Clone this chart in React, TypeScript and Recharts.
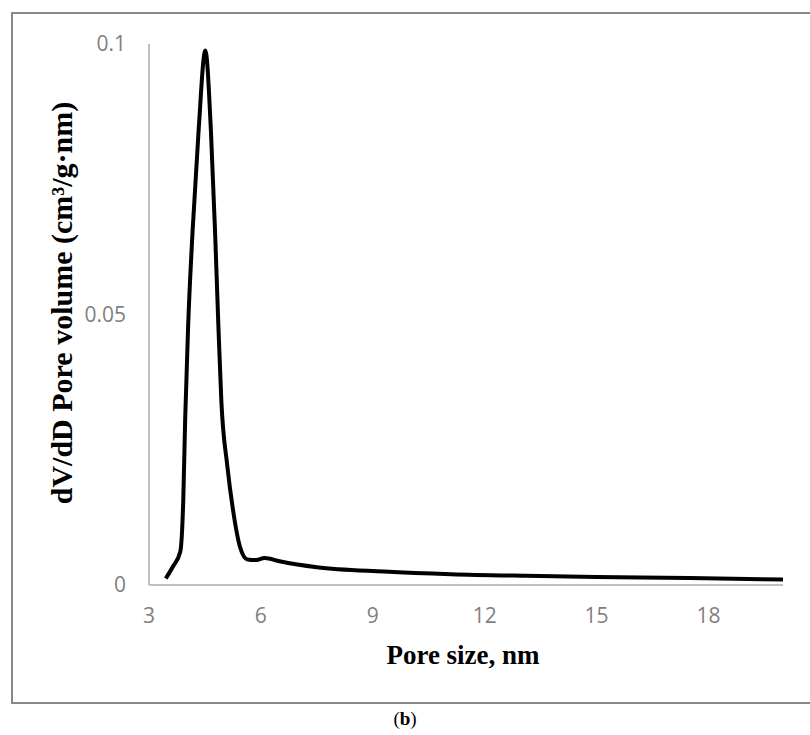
import React from 'react';
import { LineChart, Line, XAxis, YAxis } from 'recharts';

const poreSize: number[] = [3.45, 3.65, 3.84, 3.92, 3.97, 4.05, 4.17, 4.33, 4.51, 4.66, 4.77, 4.86, 4.94, 5.1, 5.25, 5.45, 5.64, 5.85, 6.1, 6.5, 7.5, 9.3, 11.1, 13.1, 15, 17.5, 20];
const poreVolume: number[] = [0.0012, 0.0035, 0.0062, 0.016, 0.0307, 0.048, 0.0656, 0.084, 0.0988, 0.084, 0.0656, 0.048, 0.034, 0.022, 0.014, 0.0068, 0.0047, 0.0046, 0.005, 0.0044, 0.0033, 0.0025, 0.002, 0.0017, 0.0015, 0.0013, 0.001];
const xTicks: number[] = [3, 6, 9, 12, 15, 18];
const yTicks: number[] = [0, 0.05, 0.1];

const xTitle = 'Pore size, nm';
const yTitle = 'dV/dD Pore volume (cm³/g·nm)';

const data = poreSize.map((x, i) => ({ x, y: poreVolume[i] }));

const tickStyle = { fontFamily: '"Open Sans", sans-serif', fontSize: 21, fill: '#7f7f7f' };

export default function App() {
  return (
    <div style={{ position: 'absolute', left: 0, top: 0, width: 810, height: 735, overflow: 'hidden', background: '#fff' }}>
      <div style={{ position: 'absolute', left: 11, top: 12, width: 820, height: 692, border: '2px solid #888', boxSizing: 'border-box' }} />
      <div style={{ position: 'absolute', left: 0, top: 0 }}>
        <LineChart width={810} height={735} data={data} margin={{ top: 44, right: 27, bottom: 120, left: 109 }}>
          <XAxis
            dataKey="x"
            type="number"
            domain={[3, 20]}
            ticks={xTicks}
            allowDataOverflow
            height={30}
            tickLine={false}
            tickSize={0}
            tickMargin={23}
            axisLine={{ stroke: '#bfbfbf', strokeWidth: 2 }}
            tick={tickStyle}
          />
          <YAxis
            type="number"
            domain={[0, 0.1]}
            ticks={yTicks}
            width={40}
            tickLine={false}
            tickSize={0}
            tickMargin={23}
            axisLine={{ stroke: '#bfbfbf', strokeWidth: 2 }}
            tick={tickStyle}
          />
          <Line
            type="monotone"
            dataKey="y"
            stroke="#000"
            strokeWidth={4}
            dot={false}
            isAnimationActive={false}
          />
        </LineChart>
      </div>
      <svg width={810} height={735} style={{ position: 'absolute', left: 0, top: 0, pointerEvents: 'none' }}>
        <text x={463} y={664} textAnchor="middle" fontFamily='"Liberation Serif", serif' fontWeight="bold" fontSize={27} fill="#000">{xTitle}</text>
        <text x={0} y={0} transform="translate(72,303) rotate(-90)" textAnchor="middle" fontFamily='"Liberation Serif", serif' fontWeight="bold" fontSize={30} fill="#000">{yTitle}</text>
        <text x={405} y={725} textAnchor="middle" fontFamily='"Liberation Serif", serif' fontSize={19} fill="#000">
          (<tspan fontWeight="bold">b</tspan>)
        </text>
      </svg>
    </div>
  );
}
